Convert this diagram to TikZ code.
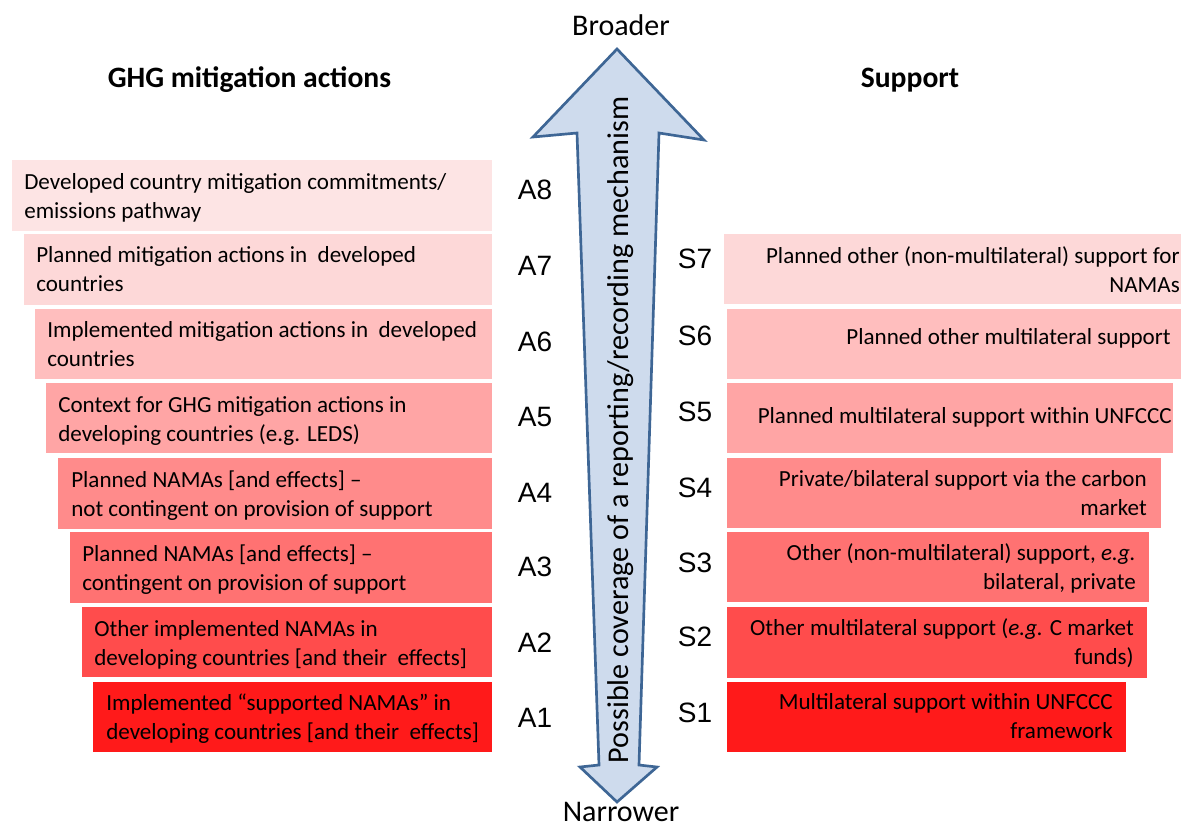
\documentclass[tikz,border=0pt]{standalone}
\usepackage{fontspec}
\setmainfont{Carlito}
\newfontfamily\arialf{Liberation Sans}
\definecolor{c8}{HTML}{FDE4E4}
\definecolor{c7}{HTML}{FDD8D8}
\definecolor{c6}{HTML}{FFBEBE}
\definecolor{c5}{HTML}{FFA5A5}
\definecolor{c4}{HTML}{FF8B8B}
\definecolor{c3}{HTML}{FF7272}
\definecolor{c2}{HTML}{FF4C4C}
\definecolor{c1}{HTML}{FF1A1A}
\definecolor{arrfill}{HTML}{CEDBED}
\definecolor{arrline}{HTML}{3E6695}
\newcommand\mybox[6]{\node[boxst, fill=#6, minimum width={(#4-#2)*0.75pt}, minimum height={(#5-#3)*0.75pt}] (#1) at (#2,#3) {};}
\begin{document}
\begin{tikzpicture}[x=0.75pt,y=-0.75pt,
  boxst/.style={rectangle, draw=none, inner sep=0pt, anchor=north west},
  ltxt/.style={inner sep=0pt, anchor=west, align=left, font=\fontsize{17.3}{21.6}\selectfont},
  rtxt/.style={inner sep=0pt, anchor=east, align=right, font=\fontsize{17.3}{21.6}\selectfont},
  lab/.style={inner sep=0pt, font=\arialf\fontsize{21}{24}\selectfont},
  head/.style={inner sep=0pt, anchor=base, font=\bfseries\fontsize{22.2}{26}\selectfont},
  endlab/.style={inner sep=0pt, anchor=base, font=\fontsize{22.5}{26}\selectfont}]
\path[use as bounding box] (0,0) rectangle (1181,828);

% arrow
\coordinate (tip) at (617,49);
\coordinate (rb) at (704,140);
\coordinate (rs) at (659,133);
\coordinate (rsb) at (639,765);
\coordinate (rbb) at (657,767);
\coordinate (btip) at (617,802);
\coordinate (lbb) at (580,767);
\coordinate (lsb) at (599,765);
\coordinate (ls) at (577,133);
\coordinate (lb) at (533,137);
\draw[fill=arrfill, draw=arrline, line width=2pt, line join=miter]
  (tip) -- (rb) -- (rs) -- (rsb) -- (rbb) -- (btip) -- (lbb) -- (lsb) -- (ls) -- (lb) -- cycle;
\node[inner sep=0pt, rotate=90, font=\fontsize{22.6}{26}\selectfont] (cov) at (621,430) {Possible coverage of a reporting/recording mechanism};

\node[endlab] (broad) at (621,36) {Broader};
\node[endlab] (narrow) at (621,821) {Narrower};
\node[head] (hl) at (249.5,87) {GHG mitigation actions};
\node[head] (hr) at (910,87) {Support};

% left boxes
\mybox{a8}{11.5}{160}{492}{231}{c8}
\mybox{a7}{24}{234}{492}{305}{c7}
\mybox{a6}{35}{309}{492}{379}{c6}
\mybox{a5}{46}{383}{492}{453}{c5}
\mybox{a4}{58}{458}{492}{529}{c4}
\mybox{a3}{70}{532}{492}{603}{c3}
\mybox{a2}{82}{607}{492}{677}{c2}
\mybox{a1}{93}{682}{492}{752}{c1}

\node[ltxt] (ta8) at (24,198) {\strut Developed country mitigation commitments/\\\strut emissions pathway};
\node[ltxt] (ta7) at (36,271) {\strut Planned mitigation actions in\ \ developed\\\strut countries};
\node[ltxt] (ta6) at (47,346) {\strut Implemented mitigation actions in\ \ developed\\\strut countries};
\node[ltxt] (ta5) at (58,421) {\strut Context for GHG mitigation actions in\\\strut developing countries (e.g. LEDS)};
\node[ltxt] (ta4) at (71,496) {\strut Planned NAMAs [and effects] --\\\strut not contingent on provision of support};
\node[ltxt] (ta3) at (82,570) {\strut Planned NAMAs [and effects] --\\\strut contingent on provision of support};
\node[ltxt] (ta2) at (94,645) {\strut Other implemented NAMAs in\\\strut developing countries [and their\ \ effects]};
\node[ltxt] (ta1) at (106,719) {\strut Implemented “supported NAMAs” in\\\strut developing countries [and their\ \ effects]};

\node[lab] (la8) at (535,190) {A8};
\node[lab] (la7) at (535,266) {A7};
\node[lab] (la6) at (535,342) {A6};
\node[lab] (la5) at (535,417) {A5};
\node[lab] (la4) at (535,493) {A4};
\node[lab] (la3) at (535,567) {A3};
\node[lab] (la2) at (535,643) {A2};
\node[lab] (la1) at (535,718) {A1};

% right boxes
\mybox{s7}{724}{234}{1181}{304}{c7}
\mybox{s6}{727}{309}{1181}{379}{c6}
\mybox{s5}{727}{383}{1173}{453}{c5}
\mybox{s4}{727}{458}{1161}{528}{c4}
\mybox{s3}{727}{532}{1149}{602}{c3}
\mybox{s2}{727}{607}{1147}{678}{c2}
\mybox{s1}{727}{682}{1126}{752}{c1}

\node[rtxt] (ts7) at (1180,272) {\strut Planned other (non-multilateral) support for\\\strut NAMAs};
\node[rtxt] (ts6) at (1171,339) {\strut Planned other multilateral support};
\node[rtxt] (ts5) at (1172,418) {\strut Planned multilateral support within UNFCCC};
\node[rtxt] (ts4) at (1147,495) {\strut Private/bilateral support via the carbon\\\strut market};
\node[rtxt] (ts3) at (1136,569) {\strut Other (non-multilateral) support, \textit{e.g.}\\\strut bilateral, private};
\node[rtxt] (ts2) at (1134,644) {\strut Other multilateral support (\textit{e.g.} C market\\\strut funds)};
\node[rtxt] (ts1) at (1113,718) {\strut Multilateral support within UNFCCC\\\strut framework};

\node[lab] (ls7) at (695,259) {S7};
\node[lab] (ls6) at (695,336) {S6};
\node[lab] (ls5) at (695,412) {S5};
\node[lab] (ls4) at (695,488) {S4};
\node[lab] (ls3) at (695,563) {S3};
\node[lab] (ls2) at (695,637) {S2};
\node[lab] (ls1) at (695,713) {S1};
\end{tikzpicture}
\end{document}
